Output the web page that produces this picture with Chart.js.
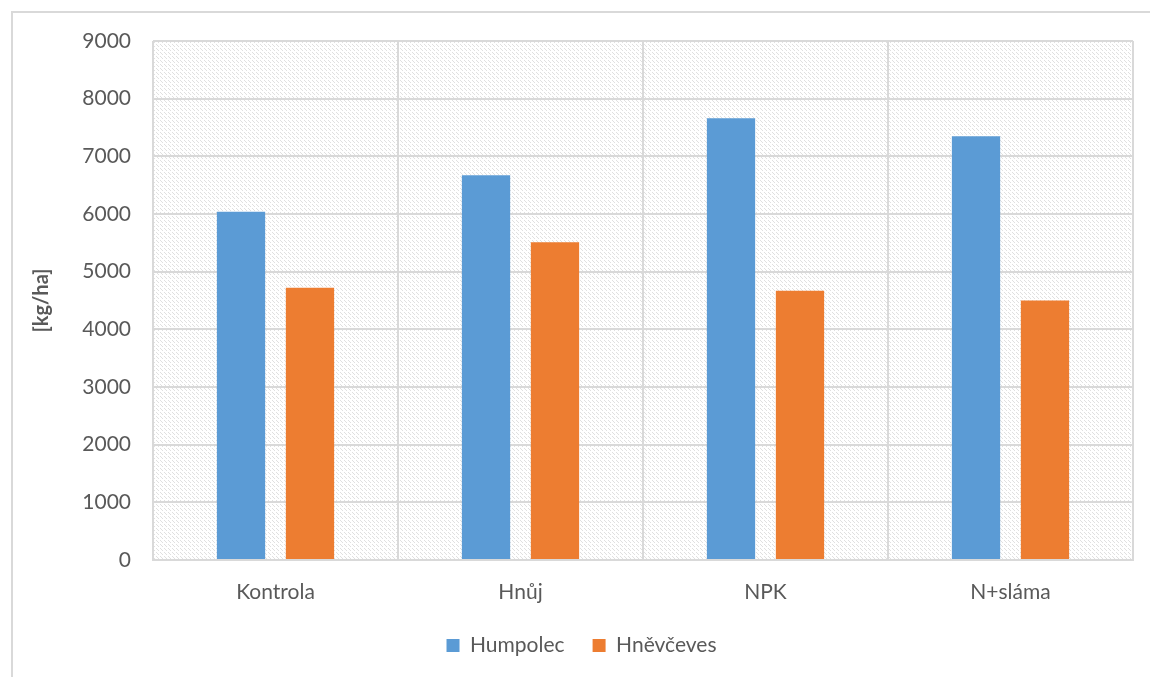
<!DOCTYPE html>
<html>
<head>
<meta charset="utf-8">
<script src="https://cdn.jsdelivr.net/npm/chart.js@4"></script>
<style>
  html, body { margin: 0; padding: 0; background: #fff; }
  #wrap { position: relative; width: 1150px; height: 677px; overflow: hidden; }
  #frame { position: absolute; left: 11px; top: 11px; width: 1200px; height: 700px;
           border-top: 2px solid #d9d9d9; border-left: 2px solid #d9d9d9; box-sizing: border-box; }
  canvas { position: absolute; left: 0; top: 0; }
</style>
</head>
<body>
<div id="wrap">
  <div id="frame"></div>
  <canvas id="chart" width="1150" height="677"></canvas>
</div>
<script>
// data
const categories = ['Kontrola', 'Hnůj', 'NPK', 'N+sláma'];
const humpolec = [6040, 6670, 7660, 7350];
const hnevceves = [4720, 5510, 4670, 4500];
const yTicks = [0, 1000, 2000, 3000, 4000, 5000, 6000, 7000, 8000, 9000];

// hatch pattern for plot background
function makePattern(ctx) {
    const c = document.createElement('canvas');
    c.width = 8;
    c.height = 8;
    const p = c.getContext('2d');
    p.fillStyle = '#ffffff';
    p.fillRect(0, 0, 8, 8);
    p.fillStyle = '#e0e0e0';
    for (let i = 0; i < 8; i++) {
        if (i % 4 !== 3) {
            p.fillRect(i, i, 1, 1);
            p.fillRect((i + 4) % 8, i, 1, 1);
        }
    }
    return ctx.createPattern(c, 'repeat');
}

const bgPlugin = {
    id: 'plotBg',
    beforeDraw(chart) {
        const { ctx, chartArea } = chart;
        ctx.save();
        ctx.fillStyle = makePattern(ctx);
        ctx.fillRect(chartArea.left, chartArea.top, chartArea.right - chartArea.left, chartArea.bottom - chartArea.top);
        ctx.restore();
    }
};

const font = "Lato, 'Open Sans', sans-serif";

new Chart(document.getElementById('chart'), {
    type: 'bar',
    data: {
        labels: categories,
        datasets: [
            { label: 'Humpolec', data: humpolec, backgroundColor: '#5b9bd5',
              categoryPercentage: 0.563, barPercentage: 0.7 },
            { label: 'Hněvčeves', data: hnevceves, backgroundColor: '#ed7d31',
              categoryPercentage: 0.563, barPercentage: 0.7 }
        ]
    },
    options: {
        responsive: false,
        animation: false,
        layout: { padding: { left: 30, right: 17, top: 41, bottom: 11 } },
        plugins: {
            tooltip: { enabled: false },
            legend: {
                position: 'bottom',
                labels: {
                    color: '#595959',
                    font: { family: font, size: 21 },
                    boxWidth: 13,
                    boxHeight: 13,
                    padding: 28
                }
            }
        },
        scales: {
            x: {
                grid: { color: '#d9d9d9', lineWidth: 2, drawTicks: false, offset: true },
                border: { color: '#d9d9d9', width: 2 },
                ticks: { color: '#595959', font: { family: font, size: 21 }, padding: 20 },
                afterFit(scale) { scale.height = 47; }
            },
            y: {
                min: 0,
                max: 9000,
                afterBuildTicks(scale) { scale.ticks = yTicks.map(v => ({ value: v })); },
                grid: { color: '#d9d9d9', lineWidth: 2, drawTicks: false },
                border: { display: false },
                ticks: {
                    color: '#595959',
                    font: { family: font, size: 21 },
                    padding: 22,
                    callback: v => String(v)
                },
                title: {
                    display: true,
                    text: '[kg/ha]',
                    color: '#595959',
                    font: { family: font, size: 20, weight: 'bold' },
                    padding: 0
                },
                afterFit(scale) { scale.width = 123; }
            }
        }
    },
    plugins: [bgPlugin]
});
</script>
</body>
</html>
